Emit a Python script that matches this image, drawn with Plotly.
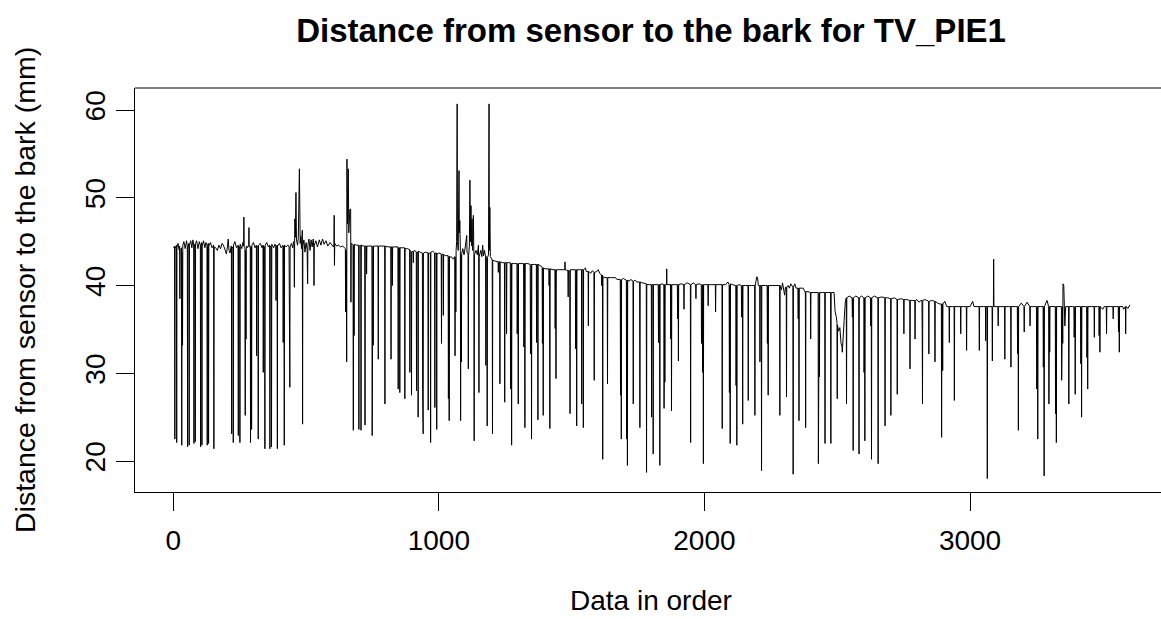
import plotly.graph_objects as go

# Readings (sample index, distance in mm)
seg_0000_0440 = [
    (1,44.3),(5,44.5),(6,22.5),(7,44.2),(12,44.6),(13,22.1),(14,44.4),(18,44.8),(22,44.1),(24,44.5),(25,38.5),(26,44.0),
    (31,44.3),(32,21.8),(33,43.8),(35,33.2),(36,44.6),(40,45.0),(45,44.2),(50,45.1),(53,44.5),(54,21.6),(55,44.3),(59,44.8),
    (60,21.8),(61,44.6),(66,45.1),(70,44.3),(74,45.2),(77,44.6),(78,22.0),(79,44.7),(82,44.4),(83,22.2),(84,44.8),(88,45.1),
    (93,44.2),(98,45.0),(102,44.6),(103,21.6),(104,44.5),(107,44.9),(108,21.8),(109,44.5),(114,45.1),(119,44.3),(123,44.9),
    (127,44.6),(128,21.8),(129,44.4),(132,44.8),(133,22.0),(134,44.5),(140,44.9),(146,44.3),(152,44.6),(153,21.4),(154,44.4),
    (160,44.3),(166,44.0),(172,44.6),(178,44.2),(184,44.8),(190,44.5),(196,44.0),(200,43.6),(204,44.4),(207,45.3),(210,44.0),
    (214,43.7),(218,44.5),(219,44.5),(220,23.1),(221,44.3),(225,44.4),(226,22.1),(227,44.6),(232,45.0),(238,44.3),(244,44.6),
    (245,22.9),(246,44.5),(250,44.4),(251,22.1),(252,44.7),(258,44.2),(262,44.9),(265,44.5),(266,47.8),(267,44.4),(270,44.3),
    (271,25.2),(272,44.0),(273,43.5),(274,33.9),(275,44.5),(280,44.3),(284,44.7),(285,46.6),(286,44.4),(290,44.5),(291,22.1),
    (292,44.3),(294,44.4),(295,23.6),(296,44.6),(302,44.9),(308,44.3),(313,44.6),(314,32.0),(315,44.4),(319,44.5),(320,22.5),
    (321,44.6),(328,44.8),(334,44.3),(338,44.6),(339,30.1),(340,44.5),(344,44.4),(345,21.4),(346,44.6),(352,44.9),(358,44.4),
    (363,44.6),(364,21.4),(365,44.5),(369,44.4),(370,21.6),(371,44.7),(378,44.3),(383,44.7),(386,44.5),(387,38.3),(388,44.4),
    (391,44.6),(392,21.4),(393,44.5),(400,44.8),(406,44.3),(413,44.6),(414,33.5),(415,44.5),(417,44.4),(418,21.8),(419,44.6),
    (425,44.4),(431,44.6),(436,44.5),(437,40.0),(438,41.0),(439,28.4),(440,44.4),
]

seg_0440_0900 = [
    (445,44.8),(450,44.3),(453,45.0),(455,44.6),(456,39.8),(457,44.8),(458,47.6),(460,45.5),(462,50.6),(464,45.2),(468,44.6),
    (471,45.5),(475,53.3),(476,45.0),(478,44.8),(480,45.6),(483,44.2),(486,46.3),(487,24.2),(488,44.5),(492,45.2),(496,43.8),
    (500,44.9),(504,44.1),(506,40.2),(507,44.6),(511,45.3),(515,44.0),(519,45.2),(523,44.4),(527,45.3),(529,44.3),(530,40.0),
    (531,44.6),(537,45.1),(543,44.4),(550,45.2),(556,44.6),(562,45.3),(568,44.7),(575,45.1),(582,44.5),(590,44.9),(597,44.6),
    (603,44.4),(605,44.7),(606,48.0),(607,42.3),(608,44.8),(615,44.5),(622,44.6),(630,44.4),(638,44.5),(645,44.3),(648,44.2),
    (649,37.0),(650,44.0),(652,43.6),(653,31.3),(654,54.4),(656,47.0),(659,53.3),(661,46.0),(665,48.7),(668,48.7),(669,38.1),
    (670,44.8),(676,44.7),(677,44.6),(678,23.5),(679,44.6),(680,44.5),(681,34.3),(682,44.7),(690,44.6),(698,44.6),(699,23.6),
    (700,44.5),(706,44.6),(707,23.5),(708,44.6),(715,44.5),(721,44.5),(722,24.1),(723,44.5),(727,44.5),(728,41.3),(729,44.5),
    (736,44.5),(748,44.5),(749,22.9),(750,44.4),(752,44.5),(753,33.2),(754,44.5),(762,44.5),(771,44.5),(772,31.6),(773,44.5),
    (782,44.5),(796,44.5),(797,26.5),(798,44.5),(808,44.4),(819,44.4),(820,31.6),(821,44.4),(824,44.4),(825,40.0),(826,44.4),
    (835,44.4),(846,44.4),(847,28.2),(848,44.3),(852,44.3),(853,27.8),(854,44.3),(862,44.3),(871,44.3),(872,27.1),(873,44.2),
    (882,44.2),(890,44.1),(891,30.1),(892,44.0),(895,43.9),(896,43.8),(897,27.5),(898,43.8),
]

seg_0900_1370 = [
    (903,43.9),(904,42.6),(905,43.9),(910,44.0),(915,43.8),(916,28.0),(917,43.8),(921,43.8),(922,25.0),(923,43.9),(930,43.8),
    (938,43.7),(939,27.3),(940,43.6),(941,23.1),(942,43.7),(950,43.8),(959,43.7),(960,25.8),(961,43.7),(968,43.7),(969,22.1),
    (970,43.8),(977,43.9),(984,43.7),(985,26.1),(986,43.7),(991,43.7),(992,23.6),(993,43.6),(1000,43.7),(1009,43.6),(1010,33.4),
    (1011,43.5),(1016,43.6),(1017,36.6),(1018,43.5),(1026,43.4),(1035,43.4),(1036,27.1),(1037,43.3),(1038,43.3),(1039,24.6),
    (1040,43.3),(1050,43.2),(1055,43.0),(1060,43.3),(1061,32.0),(1062,43.0),(1063,43.2),(1064,37.0),(1065,44.0),(1067,45.0),
    (1069,60.7),(1070,45.0),(1073,44.0),(1076,53.1),(1077,46.0),(1079,47.4),(1081,44.0),(1082,24.6),(1083,43.5),(1084,43.4),
    (1085,31.3),(1086,43.6),(1090,44.2),(1095,43.5),(1100,44.5),(1105,45.7),(1106,43.8),(1110,43.6),(1111,30.5),(1112,43.4),
    (1115,44.5),(1117,52.0),(1119,45.0),(1121,49.1),(1123,44.5),(1125,47.6),(1127,44.0),(1130,48.0),(1132,43.5),(1133,22.3),
    (1134,43.5),(1140,44.0),(1145,43.5),(1149,44.6),(1150,43.2),(1151,27.8),(1152,43.3),(1158,44.0),(1162,43.3),(1165,44.6),
    (1168,43.4),(1172,44.0),(1176,43.2),(1177,30.9),(1178,43.3),(1181,43.1),(1182,24.0),(1183,43.2),(1187,43.5),(1189,60.7),
    (1190,44.0),(1192,48.9),(1194,43.3),(1198,43.1),(1201,42.9),(1202,23.1),(1203,42.9),(1210,42.8),(1218,42.7),(1223,42.7),
    (1224,41.5),(1225,42.7),(1229,42.7),(1230,28.8),(1231,42.7),(1240,42.6),(1247,42.6),(1248,26.7),(1249,42.6),(1254,42.6),
    (1255,34.5),(1256,42.6),(1262,42.6),(1269,42.6),(1270,28.2),(1271,42.5),(1273,42.5),(1274,21.8),(1275,42.5),(1285,42.5),
    (1294,42.5),(1295,34.5),(1296,42.5),(1298,42.5),(1299,26.5),(1300,42.5),(1310,42.5),(1319,42.5),(1320,33.0),(1321,42.5),
    (1323,42.5),(1324,23.8),(1325,42.5),(1335,42.5),(1344,42.4),(1345,32.2),(1346,42.4),(1348,42.4),(1349,22.5),(1350,42.4),
    (1360,42.4),(1367,42.4),(1368,33.5),(1369,42.4),
]

seg_1370_1850 = [
    (1372,42.4),(1373,24.7),(1374,42.4),(1380,42.3),(1385,42.2),(1389,42.1),(1390,33.4),(1391,42.0),(1392,42.0),(1393,25.2),
    (1394,42.0),(1400,41.9),(1410,41.9),(1414,41.9),(1415,40.0),(1416,41.9),(1417,41.9),(1418,23.7),(1419,41.9),(1430,41.8),
    (1437,41.8),(1438,35.1),(1439,41.8),(1440,41.8),(1441,29.4),(1442,41.8),(1455,41.8),(1465,41.8),(1474,41.8),(1475,42.7),
    (1476,41.8),(1486,41.7),(1487,38.7),(1488,41.7),(1493,41.7),(1494,25.4),(1495,41.8),(1505,41.8),(1514,41.8),(1515,32.8),
    (1516,41.8),(1518,41.8),(1519,24.0),(1520,41.8),(1530,41.8),(1537,41.8),(1538,26.5),(1539,41.8),(1543,41.8),(1544,23.8),
    (1545,41.8),(1552,42.0),(1555,41.6),(1562,41.6),(1563,35.4),(1564,41.6),(1572,41.4),(1578,41.7),(1584,41.5),(1585,29.2),
    (1586,41.5),(1595,41.6),(1600,41.8),(1606,41.4),(1612,41.2),(1613,40.0),(1614,41.2),(1616,41.2),(1617,20.2),(1618,41.0),
    (1625,40.9),(1634,40.9),(1635,28.8),(1636,40.9),(1650,40.9),(1665,40.9),(1670,40.7),(1683,40.7),(1684,27.5),(1685,40.6),
    (1686,40.6),(1687,22.5),(1688,40.7),(1695,40.8),(1706,40.6),(1707,22.5),(1708,40.6),(1709,40.6),(1710,19.5),(1711,40.6),
    (1718,40.5),(1722,40.7),(1731,40.5),(1732,26.5),(1733,40.5),(1740,40.6),(1745,40.4),(1756,40.4),(1757,23.8),(1758,40.4),
    (1766,40.3),(1775,40.2),(1781,40.2),(1782,18.7),(1783,40.1),(1792,40.1),(1800,40.1),(1801,25.0),(1802,40.1),(1806,40.1),
    (1807,20.8),(1808,40.1),(1818,40.1),(1826,40.1),(1827,33.5),(1828,40.1),(1831,40.1),(1832,19.5),(1833,40.1),(1840,40.2),
    (1847,40.1),(1848,26.0),(1849,40.1),
]

seg_1850_2310 = [
    (1850,40.1),(1851,29.0),(1852,40.1),(1857,40.1),(1858,41.9),(1859,40.1),(1872,40.1),(1873,33.9),(1874,40.1),(1875,40.1),
    (1876,25.7),(1877,40.1),(1890,40.1),(1898,40.1),(1899,36.2),(1900,40.1),(1901,40.1),(1902,31.4),(1903,40.1),(1912,40.2),
    (1922,40.1),(1923,37.3),(1924,40.1),(1935,40.3),(1947,40.1),(1948,22.1),(1949,40.1),(1958,40.3),(1967,40.1),(1968,38.5),
    (1969,40.1),(1980,40.2),(1988,40.1),(1989,33.4),(1990,40.1),(1992,40.1),(1993,30.1),(1994,40.1),(1995,40.1),(1996,19.7),
    (1997,40.1),(2005,40.1),(2013,40.1),(2014,37.7),(2015,40.1),(2028,40.1),(2041,40.1),(2042,37.0),(2043,40.1),(2055,40.1),
    (2066,40.1),(2067,23.7),(2068,40.1),(2080,40.1),(2088,40.4),(2093,40.1),(2094,27.8),(2095,40.0),(2096,40.0),(2097,22.0),
    (2098,40.2),(2105,40.1),(2112,40.0),(2118,40.0),(2119,28.6),(2120,40.0),(2121,40.0),(2122,21.8),(2123,40.0),(2130,40.1),
    (2139,40.0),(2140,36.4),(2141,40.0),(2143,40.0),(2144,24.2),(2145,40.0),(2155,40.0),(2164,40.0),(2165,26.9),(2166,40.0),
    (2178,40.0),(2189,40.0),(2190,25.2),(2191,40.0),(2194,40.5),(2197,41.0),(2200,40.9),(2203,40.0),(2208,40.0),(2209,31.3),
    (2210,40.0),(2214,40.0),(2215,18.9),(2216,40.0),(2230,40.0),(2236,40.0),(2237,33.4),(2238,40.0),(2239,40.0),(2240,27.5),
    (2241,40.0),(2255,40.0),(2270,40.0),(2283,40.0),(2284,25.2),(2285,40.0),(2290,39.5),(2294,40.3),(2298,39.6),(2302,38.9),
    (2305,39.8),(2308,39.8),(2309,27.3),(2310,39.8),
]

seg_2310_2800 = [
    (2315,40.0),(2320,39.7),(2325,40.2),(2330,39.8),(2333,39.8),(2334,18.5),(2335,39.8),(2340,40.2),(2345,39.7),(2352,39.7),
    (2353,36.2),(2354,39.7),(2355,39.7),(2356,24.6),(2357,39.7),(2365,39.7),(2372,39.7),(2378,39.3),(2380,39.3),(2381,23.8),
    (2382,39.3),(2390,39.3),(2399,39.2),(2400,33.9),(2401,39.2),(2412,39.2),(2420,39.2),(2428,39.2),(2429,19.7),(2430,39.2),
    (2432,39.2),(2433,29.6),(2434,39.2),(2445,39.2),(2453,39.2),(2454,22.0),(2455,39.2),(2465,39.2),(2475,39.2),(2476,22.0),
    (2477,39.2),(2488,39.2),(2492,37.0),(2496,36.5),(2499,35.8),(2500,27.1),(2501,35.5),(2505,34.8),(2510,35.2),(2514,33.5),
    (2518,33.0),(2519,32.4),(2522,34.5),(2526,36.0),(2530,38.0),(2534,38.6),(2535,26.5),(2536,38.6),(2545,38.8),(2552,38.6),
    (2556,38.6),(2557,36.4),(2558,38.6),(2559,38.6),(2560,21.2),(2561,38.6),(2570,38.8),(2581,38.6),(2582,20.8),(2583,38.6),
    (2592,38.8),(2600,38.6),(2601,30.1),(2602,38.6),(2603,38.6),(2604,22.3),(2605,38.6),(2615,38.8),(2625,38.6),(2626,35.4),
    (2627,38.6),(2628,38.6),(2629,20.2),(2630,38.6),(2640,38.8),(2653,38.6),(2654,19.7),(2655,38.6),(2668,38.7),(2679,38.6),
    (2680,24.0),(2681,38.6),(2690,38.6),(2701,38.5),(2702,25.2),(2703,38.5),(2715,38.6),(2725,38.4),(2726,27.6),(2727,38.4),
    (2740,38.5),(2750,38.4),(2751,34.5),(2752,38.4),(2762,38.4),(2773,38.3),(2774,30.5),(2775,38.3),(2785,38.3),(2792,38.3),
    (2793,33.9),(2794,38.3),
]

seg_2800_3260 = [
    (2800,38.4),(2808,38.1),(2815,38.3),(2819,38.3),(2820,34.6),(2821,26.5),(2822,38.3),(2830,38.4),(2837,38.3),(2844,38.2),
    (2845,32.2),(2846,38.2),(2855,38.3),(2867,38.2),(2868,31.3),(2869,38.2),(2878,38.0),(2885,37.9),(2892,37.9),(2893,22.7),
    (2894,37.9),(2896,37.9),(2897,30.3),(2898,37.9),(2905,38.2),(2912,37.6),(2921,37.6),(2922,33.5),(2923,37.6),(2935,37.6),
    (2940,37.6),(2941,26.9),(2942,37.6),(2955,37.6),(2964,37.6),(2965,34.5),(2966,37.6),(2975,37.6),(2986,37.6),(2987,32.6),
    (2988,37.6),(3000,37.6),(3010,38.2),(3015,37.6),(3025,37.6),(3034,37.6),(3035,32.6),(3036,37.6),(3050,37.6),(3058,37.6),
    (3059,33.7),(3060,37.6),(3064,37.6),(3065,18.0),(3066,37.6),(3075,37.6),(3083,37.6),(3084,31.4),(3085,37.6),(3088,37.6),
    (3089,43.0),(3090,37.6),(3105,37.6),(3106,35.4),(3107,37.6),(3120,37.6),(3130,37.6),(3131,31.6),(3132,37.6),(3145,37.6),
    (3153,37.6),(3154,30.7),(3155,37.6),(3170,37.6),(3178,37.6),(3179,32.2),(3180,37.6),(3181,37.6),(3182,23.5),(3183,37.6),
    (3193,38.0),(3200,37.6),(3203,37.6),(3204,34.7),(3205,37.6),(3215,38.1),(3225,37.6),(3226,35.4),(3227,37.6),(3240,37.6),
    (3250,37.6),(3251,28.2),(3252,37.6),(3254,37.6),(3255,22.5),(3256,37.6),
]

seg_3260_3602 = [
    (3265,37.6),(3275,37.6),(3276,30.7),(3277,37.6),(3278,37.6),(3279,18.3),(3280,37.6),(3290,38.3),(3294,37.6),(3296,37.6),
    (3297,26.5),(3298,37.6),(3299,37.6),(3300,32.4),(3301,37.6),(3315,37.6),(3321,37.6),(3322,25.4),(3323,37.6),(3324,37.6),
    (3325,22.1),(3326,37.6),(3335,37.6),(3344,37.6),(3345,29.2),(3346,37.6),(3348,37.6),(3349,33.4),(3350,40.2),(3353,40.0),
    (3354,36.5),(3357,35.4),(3360,37.6),(3371,37.6),(3372,26.5),(3373,37.6),(3385,37.6),(3391,37.6),(3392,34.1),(3393,37.6),
    (3395,37.6),(3396,27.6),(3397,37.6),(3410,37.6),(3416,37.6),(3417,31.1),(3418,37.6),(3419,37.6),(3420,25.0),(3421,37.6),
    (3435,37.6),(3439,37.6),(3440,31.8),(3441,37.6),(3442,37.6),(3443,28.2),(3444,37.6),(3458,37.6),(3467,37.6),(3468,34.1),
    (3469,37.6),(3480,37.6),(3485,37.6),(3486,34.3),(3487,37.6),(3488,37.6),(3489,32.4),(3490,37.6),(3500,37.3),(3505,37.6),
    (3513,37.6),(3514,34.5),(3515,37.6),(3530,37.6),(3538,37.6),(3539,36.2),(3540,37.6),(3550,37.6),(3558,37.6),(3559,34.7),
    (3560,37.6),(3561,37.6),(3562,32.4),(3563,37.6),(3575,37.6),(3578,37.3),(3585,37.6),(3586,34.5),(3587,37.6),(3595,37.4),
    (3600,37.6),(3602,37.8),
]

x_ticks = [0, 1000, 2000, 3000]
y_ticks = [20, 30, 40, 50, 60]

readings = (seg_0000_0440 + seg_0440_0900 + seg_0900_1370 + seg_1370_1850 +
            seg_1850_2310 + seg_2310_2800 + seg_2800_3260 + seg_3260_3602)
sample_index = [r[0] for r in readings]
distance_mm = [r[1] for r in readings]

FONT = "Liberation Sans, Arial, sans-serif"

fig = go.Figure()
fig.add_trace(go.Scatter(x=sample_index, y=distance_mm, mode="lines",
                         line=dict(color="black", width=1), showlegend=False,
                         hoverinfo="x+y"))

fig.update_layout(
    width=1161, height=619,
    margin=dict(l=135, r=0, t=88, b=127),
    plot_bgcolor="white", paper_bgcolor="white",
    font=dict(family=FONT, size=28, color="black"),
    title=dict(text="<b>Distance from sensor to the bark for TV_PIE1</b>",
               font=dict(family=FONT, size=33, color="black"),
               x=0.503, xref="paper", xanchor="center",
               y=1 - 30 / 619, yref="container", yanchor="middle"),
    xaxis=dict(range=[-144, 3719], tickvals=x_ticks, ticktext=[str(v) for v in x_ticks],
               showgrid=False, zeroline=False, showline=True, linecolor="black", linewidth=1,
               ticks="outside", ticklen=18, tickwidth=1, tickcolor="black",
               tickfont=dict(family=FONT, size=28, color="black"), ticklabelstandoff=5),
    yaxis=dict(range=[16.47, 62.51], tickvals=y_ticks, ticktext=[str(v) for v in y_ticks],
               showgrid=False, zeroline=False, showline=True, linecolor="black", linewidth=1,
               ticks="outside", ticklen=18, tickwidth=1, tickcolor="black", tickangle=-90,
               tickfont=dict(family=FONT, size=28, color="black")),
    shapes=[dict(type="line", xref="paper", yref="paper", x0=0, x1=1.01, y0=1, y1=1,
                 line=dict(color="black", width=1))],
    annotations=[
        dict(text="Data in order", xref="paper", yref="paper", x=0.503, y=-108 / 404,
             xanchor="center", yanchor="middle", showarrow=False,
             font=dict(family=FONT, size=28, color="black")),
        dict(text="Distance from sensor to the bark (mm)", xref="paper", yref="paper",
             x=(25 - 135) / 1026, y=0.5, xanchor="center", yanchor="middle", textangle=-90,
             showarrow=False, font=dict(family=FONT, size=28.5, color="black")),
    ],
)

fig.write_html("out.html")
